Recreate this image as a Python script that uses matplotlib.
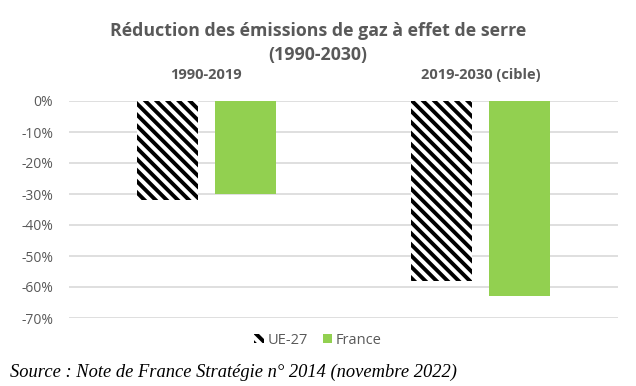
import matplotlib.pyplot as plt
import matplotlib.patches as mpatches
import matplotlib.transforms as mtransforms
import numpy as np

periods = ['1990-2019', '2019-2030 (cible)']
ue27 = [-32, -58]
france = [-30, -63]
yticks = [0, -10, -20, -30, -40, -50, -60, -70]

GREY = '#595959'
GREEN = '#92d050'
HATCH = '\\\\\\'

plt.rcParams['font.family'] = ['Open Sans', 'DejaVu Sans']
plt.rcParams['hatch.linewidth'] = 2.8

fig = plt.figure(figsize=(6.36, 3.86), dpi=100)
ax = fig.add_axes([69/636, 1 - 318/386, 549/636, 217/386])

x = np.arange(len(periods))
w = 0.222
gap = 0.062
ax.bar(x - (w + gap)/2, ue27, w, color='white', edgecolor='black', hatch=HATCH, linewidth=0, zorder=3)
ax.bar(x + (w + gap)/2, france, w, color=GREEN, linewidth=0, zorder=3)

ax.set_xlim(-0.5, 1.5)
ax.set_ylim(-70, 0)
ax.set_yticks(yticks)
ax.set_yticklabels(['%d%%' % v for v in yticks], color=GREY, fontsize=10)
ax.set_xticks([])
ax.tick_params(axis='y', length=0, pad=11.5)
ax.grid(axis='y', color='#d9d9d9', linewidth=1.2, zorder=0)
ax.set_axisbelow(True)
for s in ax.spines.values():
    s.set_visible(False)

# period labels above each group
offset = ax.transData + mtransforms.ScaledTranslation(0, 19/100, fig.dpi_scale_trans)
for i, p in enumerate(periods):
    ax.text(i, 0, p, transform=offset, ha='center', va='bottom', fontsize=10.5,
            fontweight='bold', color=GREY)

fig.text(0.5, 1 - 43/386, 'Réduction des émissions de gaz à effet de serre\n(1990-2030)',
         ha='center', va='center', fontsize=12.8, fontweight='bold', color=GREY, linespacing=1.45)

handles = [mpatches.Patch(facecolor='white', edgecolor='black', hatch=HATCH, linewidth=0, label='UE-27'),
           mpatches.Patch(facecolor=GREEN, linewidth=0, label='France')]
leg = fig.legend(handles=handles, loc='center', bbox_to_anchor=(0.5, 1 - 340/386), ncol=2,
                 frameon=False, fontsize=10.5, handlelength=0.65, handleheight=0.65,
                 handletextpad=0.25, columnspacing=1.0)
for t in leg.get_texts():
    t.set_color(GREY)

fig.text(10/636, 1 - 372/386, 'Source : Note de France Stratégie n° 2014 (novembre 2022)',
         ha='left', va='center', fontsize=13.3, style='italic', family='Liberation Serif')

fig.savefig('out.png', dpi=100)
